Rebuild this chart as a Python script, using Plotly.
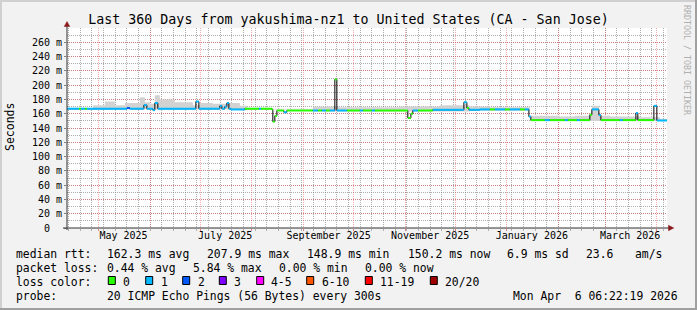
import plotly.graph_objects as go

# ---------------- data ----------------
x_start = "2025-04-12 02:00"
x_end = "2026-04-07 02:00"

# median RTT (ms) as a step series: value holds from its date until the next date
med_dates = [
    "2025-04-12 02:00", "2025-04-19 05:00", "2025-04-20 10:00", "2025-04-22 19:00",
    "2025-04-24 00:00", "2025-05-18 00:00", "2025-05-19 19:00", "2025-05-28 05:00",
    "2025-05-30 00:00", "2025-06-02 14:00", "2025-06-03 19:00", "2025-06-05 14:00",
    "2025-06-28 10:00", "2025-06-30 05:00", "2025-07-12 19:00", "2025-07-14 00:00",
    "2025-07-15 19:00", "2025-07-17 00:00", "2025-07-18 05:00", "2025-07-19 10:00",
    "2025-07-27 19:00", "2025-08-05 05:00", "2025-08-06 10:00", "2025-08-13 00:00",
    "2025-08-13 14:00", "2025-08-14 19:00", "2025-08-16 00:00", "2025-08-20 05:00",
    "2025-08-22 00:00", "2025-09-06 14:00", "2025-09-09 14:00", "2025-09-12 00:00",
    "2025-09-14 10:00", "2025-09-16 19:00", "2025-09-19 19:00", "2025-09-21 00:00",
    "2025-09-27 00:00", "2025-10-04 19:00", "2025-10-06 14:00", "2025-10-12 00:00",
    "2025-10-13 19:00", "2025-11-02 14:00", "2025-11-04 10:00", "2025-11-05 14:00",
    "2025-11-08 14:00", "2025-11-17 14:00", "2025-12-06 05:00", "2025-12-08 00:00",
    "2025-12-09 05:00", "2025-12-15 19:00", "2025-12-21 19:00", "2025-12-24 19:00",
    "2025-12-30 19:00", "2026-01-02 19:00", "2026-01-08 19:00", "2026-01-11 19:00",
    "2026-01-14 05:00", "2026-01-15 10:00", "2026-01-23 19:00", "2026-01-26 19:00",
    "2026-02-04 19:00", "2026-02-06 14:00", "2026-02-12 00:00", "2026-02-13 19:00",
    "2026-02-19 19:00", "2026-02-21 00:00", "2026-02-25 05:00", "2026-02-26 10:00",
    "2026-03-09 19:00", "2026-03-11 14:00", "2026-03-19 10:00", "2026-03-20 14:00",
    "2026-03-30 05:00", "2026-04-01 00:00",
]
med_vals = [
    167, 167, 167, 167,
    167, 168, 167, 172,
    167, 165, 175, 167,
    177, 167, 171, 167,
    170, 175, 167, 166,
    167, 167, 167, 166,
    149, 157, 164.5, 162,
    164.5, 164.5, 164.5, 164.5,
    164.5, 164.5, 208, 164.5,
    164.5, 164.5, 164.5, 164.5,
    164.5, 154, 160, 164.5,
    164.5, 165.5, 176, 168,
    165.5, 166, 166, 166,
    166, 166, 166, 166,
    156, 151, 151, 151,
    151, 151, 151, 151,
    158.5, 166, 158, 151,
    151, 151, 161, 151,
    171, 150.5,
]
# index into loss_names / loss_colors
med_loss = [
    1, 0, 1, 0,
    1, 2, 1, 1,
    1, 1, 1, 1,
    1, 1, 1, 1,
    1, 1, 1, 1,
    0, 1, 0, 0,
    0, 0, 0, 1,
    0, 1, 0, 1,
    0, 1, 0, 1,
    0, 1, 0, 1,
    0, 0, 0, 1,
    0, 1, 1, 0,
    1, 1, 0, 1,
    0, 1, 0, 1,
    1, 0, 1, 0,
    1, 0, 1, 0,
    0, 1, 1, 0,
    1, 0, 1, 0,
    1, 1,
]

# smoke (spread of the individual pings), step series
smoke_dates = [
    "2025-04-12 02:00", "2025-04-27 14:00", "2025-05-04 19:00", "2025-05-10 19:00",
    "2025-05-16 19:00", "2025-05-25 19:00", "2025-05-28 19:00", "2025-05-31 19:00",
    "2025-06-03 19:00", "2025-06-06 19:00", "2025-06-15 19:00", "2025-06-26 14:00",
    "2025-06-30 19:00", "2025-07-08 14:00", "2025-07-17 00:00", "2025-07-24 19:00",
    "2025-07-29 00:00", "2025-09-06 14:00", "2025-09-22 19:00", "2025-10-28 19:00",
    "2025-11-21 19:00", "2025-12-09 19:00", "2025-12-21 19:00", "2026-01-14 19:00",
    "2026-02-01 19:00", "2026-02-10 19:00", "2026-02-19 19:00", "2026-02-21 00:00",
    "2026-02-25 05:00", "2026-03-03 19:00", "2026-03-21 19:00", "2026-04-02 19:00",
]
smoke_lo = [
    166, 166, 166, 166,
    166, 166, 166, 166,
    166, 166, 166, 166,
    166, 166, 166, 165,
    166, 163, 163, 163,
    163, 164, 164, 150,
    150, 150, 150, 150,
    150, 150, 150, 150,
]
smoke_hi = [
    167, 172, 177, 172,
    175, 183, 176, 174,
    186, 180, 176, 172,
    175, 174, 175, 171,
    167, 170, 169, 170,
    172, 170, 169, 157,
    156, 157, 160, 171,
    157, 156, 155, 153,
]

loss_names = ["0", "1", "2", "3", "4-5", "6-10", "11-19", "20/20"]
loss_colors = ["#26ff00", "#00b8ff", "#0059ff", "#7e00ff",
               "#ff00ff", "#ff5500", "#ff0000", "#a10000"]

y_tickvals = [0, 20, 40, 60, 80, 100, 120, 140, 160, 180, 200, 220, 240, 260]
y_ticktext = ["0\u00a0\u00a0", "20 m", "40 m", "60 m", "80 m", "100 m", "120 m",
              "140 m", "160 m", "180 m", "200 m", "220 m", "240 m", "260 m"]

month_starts = ["2025-05-01", "2025-06-01", "2025-07-01", "2025-08-01",
                "2025-09-01", "2025-10-01", "2025-11-01", "2025-12-01",
                "2026-01-01", "2026-02-01", "2026-03-01", "2026-04-01"]
label_dates = ["2025-05-16", "2025-07-16", "2025-09-16",
               "2025-11-16", "2026-01-16", "2026-03-16"]
label_text = ["May 2025", "July 2025", "September 2025",
              "November 2025", "January 2026", "March 2026"]

title_text = "Last 360 Days from yakushima-nz1 to United States (CA - San Jose)"

stats_rows = [
    [("median rtt:", 16), ("162.3 ms avg", 107.3), ("207.9 ms max", 207.3),
     ("148.9 ms min", 306.7), ("150.2 ms now", 407.5), ("6.9 ms sd", 507),
     ("23.6", 586.3), ("am/s", 635.3)],
    [("packet loss:", 16), ("0.44 % avg", 107.3), ("5.84 % max", 192.7),
     ("0.00 % min", 279.3), ("0.00 % now", 365.3)],
    [("loss color:", 16)],
    [("probe:", 16), ("20 ICMP Echo Pings (56 Bytes) every 300s", 107.3),
     ("Mon Apr  6 06:22:19 2026", 513)],
]
row_y = [254.3, 268.3, 282.3, 296.0]
box_x = [108.3, 145.7, 182.7, 219.3, 256.7, 306.7, 365.3, 430.3]
box_label_x = [123.3, 160.7, 197.7, 234.3, 270.7, 321.7, 380.3, 445.3]

# ---------------- geometry helpers ----------------
W, H = 697, 310
ML, MR, MT, MB = 67, 30, 28, 82
PW, PH = W - ML - MR, H - MT - MB
MONO = "DejaVu Sans Mono"


def px(x):
    return (x - ML) / PW


def py(y):
    return (H - MB - y) / PH


fig = go.Figure()

# smoke
sd = smoke_dates + [x_end]
fig.add_trace(go.Scatter(x=sd, y=smoke_lo + [smoke_lo[-1]], mode="lines",
                         line=dict(width=0, shape="hv", color="rgba(0,0,0,0)"),
                         hoverinfo="skip"))
fig.add_trace(go.Scatter(x=sd, y=smoke_hi + [smoke_hi[-1]], mode="lines",
                         line=dict(width=0, shape="hv", color="rgba(0,0,0,0)"),
                         fill="tonexty", fillcolor="#d2d2d2", hoverinfo="skip"))

# black median step line (shows the vertical transitions)
md = med_dates + [x_end]
fig.add_trace(go.Scatter(x=md, y=med_vals + [med_vals[-1]], mode="lines",
                         line=dict(width=1, shape="hv", color="#000000"),
                         hoverinfo="skip"))

# coloured median segments by loss
for ci, col in enumerate(loss_colors):
    xs, ys = [], []
    for i, (d, v, l) in enumerate(zip(med_dates, med_vals, med_loss)):
        if l != ci:
            continue
        d2 = md[i + 1]
        xs += [d, d2, None]
        ys += [v, v, None]
    if xs:
        fig.add_trace(go.Scatter(x=xs, y=ys, mode="lines",
                                 line=dict(width=2, color=col),
                                 hoverinfo="skip"))

# invisible trace for the label axis
fig.add_trace(go.Scatter(x=[x_start], y=[0], xaxis="x2", mode="markers",
                         marker=dict(opacity=0), hoverinfo="skip"))

GRID = "rgba(120,120,120,0.6)"
MGRID = "rgba(230,70,70,0.45)"
AXIS = "#303030"
ARROW = "#8b1a1a"

shapes = []
# axes lines
shapes.append(dict(type="line", xref="paper", yref="paper",
                   x0=px(67), x1=px(67), y0=py(230), y1=py(26),
                   line=dict(color=AXIS, width=1)))
shapes.append(dict(type="line", xref="paper", yref="paper",
                   x0=px(63), x1=px(669), y0=py(228), y1=py(228),
                   line=dict(color=AXIS, width=1)))
# arrows
shapes.append(dict(type="path", xref="paper", yref="paper",
                   path=f"M {px(64.2)},{py(26.5)} L {px(67)},{py(21.5)} L {px(69.8)},{py(26.5)} Z",
                   fillcolor=ARROW, line=dict(color=ARROW, width=0.5)))
shapes.append(dict(type="path", xref="paper", yref="paper",
                   path=f"M {px(668.5)},{py(225.3)} L {px(673.8)},{py(228)} L {px(668.5)},{py(230.7)} Z",
                   fillcolor=ARROW, line=dict(color=ARROW, width=0.5)))
# 3D frame
shapes.append(dict(type="rect", xref="paper", yref="paper", x0=px(0), x1=px(W),
                   y0=py(0), y1=py(2), fillcolor="#d0d0d0", line=dict(width=0)))
shapes.append(dict(type="rect", xref="paper", yref="paper", x0=px(0), x1=px(2),
                   y0=py(0), y1=py(H), fillcolor="#d0d0d0", line=dict(width=0)))
shapes.append(dict(type="rect", xref="paper", yref="paper", x0=px(W - 2), x1=px(W),
                   y0=py(0), y1=py(H), fillcolor="#a0a0a0", line=dict(width=0)))
shapes.append(dict(type="rect", xref="paper", yref="paper", x0=px(0), x1=px(W),
                   y0=py(H - 2), y1=py(H), fillcolor="#a0a0a0", line=dict(width=0)))
# loss colour boxes
for bx, col in zip(box_x, loss_colors):
    shapes.append(dict(type="rect", xref="paper", yref="paper",
                       x0=px(bx), x1=px(bx + 7), y0=py(284.5), y1=py(276.5),
                       fillcolor=col, line=dict(color="#000000", width=1)))


def note(text, x, y, size=11.4, color="#000000", xanchor="left", angle=0):
    return dict(text=text.replace(" ", "\u00a0"), x=px(x), y=py(y),
                xref="paper", yref="paper", xanchor=xanchor, yanchor="middle",
                showarrow=False, textangle=angle, borderpad=0,
                font=dict(family=MONO, size=size, color=color))


annotations = []
for row, yy in zip(stats_rows, row_y):
    for text, xx in row:
        annotations.append(note(text, xx - 1, yy))
for name, lx in zip(loss_names, box_label_x):
    annotations.append(note(name, lx - 1, row_y[2]))
annotations.append(note("Seconds", 10, 127, size=11.5, xanchor="center", angle=-90))
annotations.append(note("RRDTOOL / TOBI OETIKER", 687, 60, size=8.3,
                        color="#b0b0b0", xanchor="center", angle=90))

fig.update_layout(
    width=W, height=H,
    margin=dict(l=ML, r=MR, t=MT, b=MB, pad=0),
    paper_bgcolor="#f2f2f2", plot_bgcolor="#ffffff",
    showlegend=False, hovermode=False,
    title=dict(text=title_text, x=0.5, xref="container", xanchor="center",
               y=1 - 19 / H, yref="container", yanchor="middle",
               font=dict(family=MONO, size=13.3, color="#000000")),
    xaxis=dict(type="date", range=[x_start, x_end], tickmode="array",
               tickvals=month_starts, ticktext=[""] * len(month_starts),
               showticklabels=False, ticks="outside", ticklen=2,
               tickcolor="#e08080", showgrid=True, gridcolor=MGRID,
               griddash="1px,1px", gridwidth=1, zeroline=False, showline=False,
               minor=dict(tick0="2025-04-13", dtick=7 * 86400000, showgrid=True,
                          gridcolor=GRID, griddash="1px,1px", gridwidth=1,
                          ticks="outside", ticklen=2, tickcolor="#b0b0b0")),
    xaxis2=dict(type="date", range=[x_start, x_end], overlaying="x", anchor="y",
                side="bottom", tickmode="array", tickvals=label_dates,
                ticktext=label_text, showgrid=False, zeroline=False,
                showline=False, ticks="",
                tickfont=dict(family=MONO, size=10, color="#000000")),
    yaxis=dict(range=[0, 280], tickmode="array", tickvals=y_tickvals,
               ticktext=y_ticktext, ticks="outside", ticklen=2,
               tickcolor="#808080", showgrid=True, gridcolor=MGRID,
               griddash="1px,1px", gridwidth=1, zeroline=False, showline=False,
               tickfont=dict(family=MONO, size=10, color="#000000"),
               minor=dict(dtick=10, tick0=0, showgrid=True, gridcolor=GRID,
                          griddash="1px,1px", gridwidth=1)),
    shapes=shapes,
    annotations=annotations,
)

fig.write_html("out.html")
